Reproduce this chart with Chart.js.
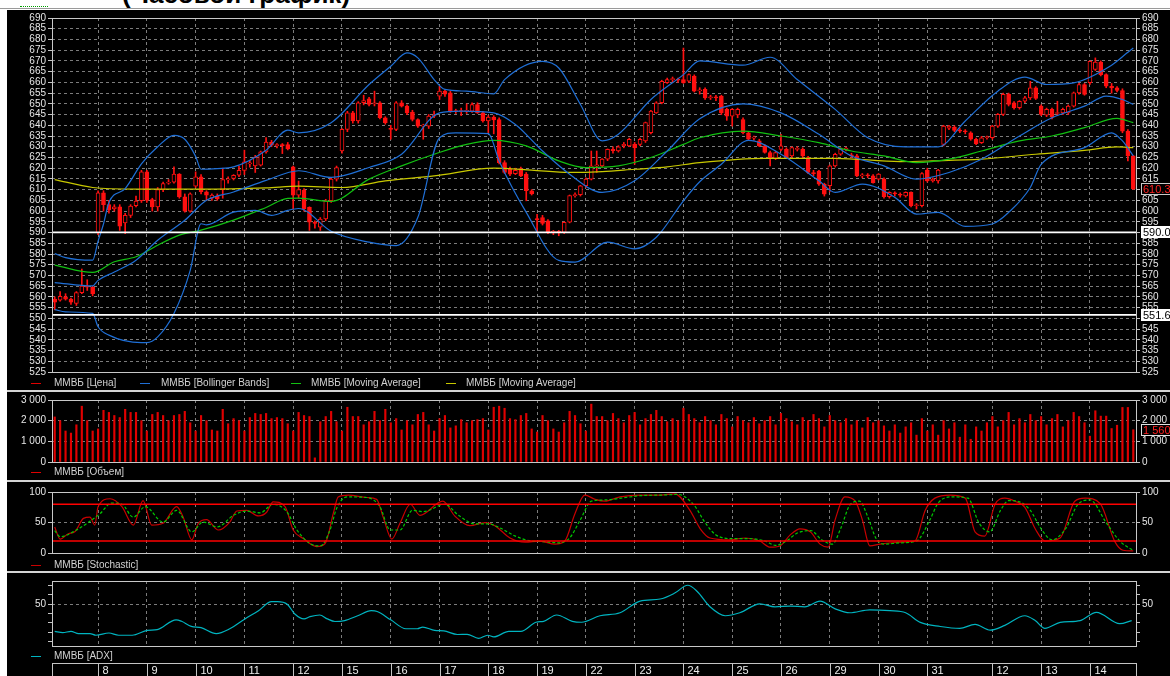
<!DOCTYPE html>
<html>
<head>
<meta charset="utf-8">
<script src="https://cdn.jsdelivr.net/npm/chart.js@4.4.1/dist/chart.umd.min.js"></script>
<style>
  html, body { margin: 0; padding: 0; width: 1170px; height: 676px; overflow: hidden; background: #fff; font-family: "Liberation Sans", Arial, sans-serif; }
  #top { position: absolute; left: 0; top: 0; width: 1170px; height: 8px; overflow: hidden; background: #fff; border-bottom: 1px solid #9a9a9a; }
  #title { position: absolute; left: 122px; top: -21px; font: bold 26px "Liberation Sans", Arial, sans-serif; color: #000; white-space: nowrap; }
  #tab { position: absolute; left: 20px; top: 6px; width: 28px; border-top: 1px dotted #00a000; }
  #board { position: absolute; left: 7px; top: 10px; width: 1163px; height: 666px; background: #000; }
  canvas { position: absolute; left: 0; }
  .sep { position: absolute; left: 7px; width: 1163px; height: 2px; background: #d4d4d4; }
  .leg { position: absolute; font-size: 10px; line-height: 12px; color: #d2d2d2; white-space: nowrap; }
  .mark { position: absolute; width: 10px; height: 1px; }
</style>
</head>
<body>
<div id="top"><div id="title">(Часовой график)</div><div id="tab"></div></div>
<div id="board"></div>
<div class="sep" style="top:390px"></div>
<div class="sep" style="top:480px"></div>
<div class="sep" style="top:571px"></div>
<canvas id="cMain" width="1170" height="372" style="top:10px"></canvas>
<canvas id="cVol" width="1170" height="80" style="top:392px"></canvas>
<canvas id="cSto" width="1170" height="80" style="top:483px"></canvas>
<canvas id="cAdx" width="1170" height="103" style="top:573px"></canvas>
<script>
// trading days: index of the first hourly candle of each day and its label
const dayStart = [8, 17, 26, 35, 44, 53, 62, 71, 80, 89, 98, 107, 116, 125, 134, 143, 152, 161, 173, 182, 191];
const dayLabels = ['8', '9', '10', '11', '12', '15', '16', '17', '18', '19', '22', '23', '24', '25', '26', '29', '30', '31', '12', '13', '14'];

// hourly candles
const opens = [
  559, 558.5, 560, 559, 557, 562, 565, 564.5, 590, 608.5,
  603, 601, 602, 594.5, 598, 602.5, 604.8, 618.3, 605.4, 602,
  610, 613, 613.5, 617.2, 606.6, 600, 611.6, 616, 609, 606,
  607, 610, 614.5, 615.2, 616.7, 619, 622, 621, 621.4, 627.6,
  632.2, 630.5, 630.7, 631, 620.6, 607.4, 609.8, 601.7, 594.8, 592.5,
  596.3, 604.8, 614.9, 628, 638.1, 645.8, 642, 650.5, 652.3, 650,
  650.5, 643.5, 638.5, 638.1, 650.5, 648.9, 646.1, 642.7, 639.6, 639.6,
  644.3, 653.6, 655.9, 655.1, 646.6, 646.4, 646.5, 646.6, 649.7, 645.8,
  642, 643.8, 642.7, 622.6, 619.5, 617.5, 619.8, 617.2, 609.5, 596.3,
  597, 595.5, 590.1, 590.4, 590.1, 594.8, 607.2, 607.6, 611.8, 614.9,
  621.1, 621.1, 624.2, 628.8, 628, 630.5, 630.4, 631.1, 631.1, 632.7,
  636.5, 645.8, 650.5, 659.8, 661.3, 661.5, 661.3, 660.5, 662.9, 656,
  656.7, 652.8, 653.3, 653.6, 647.4, 644.3, 644.8, 642.7, 636.5, 634,
  632.7, 630.4, 627.3, 624.6, 628.8, 628.8, 625.7, 628.8, 628.8, 624.9,
  618, 618.7, 612.6, 611.8, 621.1, 626.5, 628.8, 626, 625.7, 616.4,
  616.8, 616.4, 614.9, 614.9, 606.7, 608.2, 607.6, 607.1, 608.7, 602.5,
  602.5, 619.1, 614.1, 614.1, 631.1, 638.6, 639.2, 637.6, 637.3, 636.5,
  633.5, 631.9, 634.2, 634.2, 639.6, 645.1, 654.4, 650.5, 648.2, 651.2,
  652.8, 657.4, 648.9, 644.7, 647.4, 645.5, 645.8, 645.8, 648.9, 655.1,
  659, 659.8, 666, 669.5, 663.6, 658.2, 657.4, 656.2, 637.3, 625.7
];
const highs = [
  560, 562.5, 561.5, 559.5, 562.5, 573, 568, 565, 609.5, 609.5,
  605, 603, 603, 599, 603, 607, 619, 619, 606, 611,
  613.5, 614.7, 620.6, 617.5, 608, 608.5, 618.3, 617, 609.5, 608,
  608, 620, 616, 617, 621, 628.4, 623.5, 626, 628, 634.3,
  633, 631.5, 631.5, 632, 621, 614, 610.5, 602, 595.5, 597,
  605.5, 615.5, 621, 638.5, 646.5, 646.5, 651, 654, 653, 655.9,
  651, 644, 640, 651, 651.5, 649.5, 647, 643, 640.5, 645,
  646.6, 658.2, 656.5, 656, 647.5, 648, 650, 650.5, 650.5, 646.5,
  644.5, 644.5, 643.5, 623.5, 620.5, 620, 620.5, 618, 610, 598.5,
  598, 596, 591, 591, 595, 607.5, 608.5, 612, 615.5, 628,
  628, 624.5, 629, 630, 630.5, 632, 634, 632, 634, 641.5,
  647, 651, 661, 662, 662.5, 662, 676, 664, 663.5, 657.5,
  657.5, 654, 654, 654, 648, 647.8, 648, 643.5, 637, 635,
  633.5, 631, 628, 627.8, 635.8, 629.5, 630, 630, 629.5, 625.5,
  619, 619, 613, 621.5, 627, 629.5, 629.8, 627, 626.5, 617.5,
  617.5, 617, 617.5, 615.5, 609, 609, 608.5, 609, 609, 603.5,
  618, 620, 615.5, 619.5, 640, 640, 639.8, 638.5, 638, 637,
  634, 634.8, 635, 640, 645.5, 655, 655, 651, 651.5, 653.5,
  660.5, 658, 649.5, 648, 648, 651.2, 648, 649.5, 655.5, 659.5,
  659.5, 670, 671.4, 670, 664, 659.5, 658, 657, 638, 626
];
const lows = [
  554, 558, 558.5, 556.5, 556, 561.5, 563, 560.5, 589, 600,
  599, 600, 591, 589.5, 597, 602, 604, 604, 600, 600,
  609, 612.5, 613, 606, 599.5, 599.5, 611, 608, 605, 605,
  605, 606, 613, 614.5, 616, 617, 620.5, 618, 621, 627,
  630, 629.5, 626.8, 628.5, 601, 606, 600, 591, 592, 591,
  595.5, 604, 614, 627, 637, 641, 641, 649.5, 649, 649,
  643, 640.5, 633.5, 637.5, 648.5, 645, 642, 639, 633.5, 638.5,
  643.5, 652, 653.5, 646, 645.5, 644.5, 645.5, 646, 645.5, 641.5,
  636.6, 636, 622, 617.5, 616.5, 617, 616, 604.8, 607.5, 590,
  593.5, 589.5, 589, 588.5, 589.5, 594.5, 606.5, 607, 611, 614.5,
  618, 620.5, 623.5, 627, 627.5, 629.5, 630, 621.8, 630.5, 632,
  636, 645.5, 650, 659.5, 660, 660, 659.5, 660, 655.5, 654.5,
  652, 652, 651.5, 645, 642.3, 639.6, 643.5, 636, 633, 633,
  630, 627, 621.1, 624, 628, 624.5, 625, 628, 625, 617.5,
  616.5, 612, 607, 609, 620.5, 626, 628, 625, 616, 615.5,
  615.5, 613, 614.5, 606, 606, 607, 606.5, 606.5, 602, 601,
  602, 613.5, 613.5, 613, 630.4, 638, 637, 636.5, 636, 633,
  631, 631.5, 633.5, 633.5, 639, 644.5, 649, 647.5, 647.5, 650.5,
  652, 652, 644.5, 644, 643, 644.5, 645, 645, 648.5, 654.5,
  654, 659, 665.5, 663, 657.5, 655, 655.5, 636.5, 623.4, 610
];
const closes = [
  557.5, 560.3, 559, 557.5, 562, 565, 564.5, 561.5, 608.5, 603,
  600.5, 602, 593, 598, 602.3, 604.7, 618.3, 605, 602, 610,
  612.8, 613.5, 617.2, 606.6, 600, 608, 616, 609, 607.4, 607.5,
  605.7, 614.7, 615, 616.7, 619, 623, 622.5, 625, 627.6, 632.2,
  630.7, 631, 630.5, 629, 607.4, 610, 601, 594.8, 594.3, 596.3,
  604.8, 614.9, 620.3, 638.1, 645.8, 642, 650.5, 651.5, 649.7, 650.5,
  643.5, 641.2, 638.1, 650.5, 648.9, 645.8, 642.7, 639.6, 639.9, 644.3,
  644.6, 655.9, 654.5, 646.6, 646.4, 646.8, 647, 649.7, 645.8, 642,
  643.8, 642.5, 622.6, 618, 617.2, 619, 616.4, 609.5, 608, 596,
  594.3, 590.1, 590.4, 590.1, 594.8, 607.2, 607.6, 611.8, 614.9, 621.1,
  621.5, 624.2, 628.8, 628.2, 629.9, 631.1, 633.5, 629.6, 633.5, 641.2,
  646.6, 650.5, 660.5, 661.3, 661.5, 661, 659.8, 663.6, 655.9, 656.5,
  652.8, 653.3, 652.8, 645.8, 644.3, 647.4, 647.4, 636.5, 633.5, 634.4,
  630.4, 627.3, 624.6, 627.3, 630.4, 624.9, 629.6, 629.2, 625.7, 618,
  617.5, 612.6, 607.9, 621.1, 626.5, 628.8, 629.3, 625.7, 616.4, 616.8,
  616.4, 613.3, 617.2, 606.7, 608.7, 608, 607.4, 608.7, 602.5, 602.8,
  617.5, 614.1, 614.9, 619.1, 639.6, 639.6, 637.6, 637.3, 637, 633.5,
  631.4, 634.2, 634.5, 639.6, 645.1, 654.4, 649.7, 648.2, 651.2, 652.8,
  657.4, 652.5, 645.1, 647.4, 643.8, 645.8, 647.4, 648.9, 655.1, 659,
  654.4, 669.8, 669.5, 663.6, 658.2, 657.4, 656.2, 637.3, 625.7, 610.36
];
const volumes = [
  2180, 2000, 1500, 1400, 1800, 2700, 2000, 1500, 1600, 2500,
  2400, 2250, 2150, 2550, 2400, 2400, 2000, 1500, 2300, 2400,
  2250, 2000, 2250, 2300, 2450, 1900, 1500, 2250, 2000, 1550,
  1500, 2550, 1850, 2100, 2000, 1500, 2150, 2350, 2300, 2350,
  2100, 2150, 2100, 1850, 1500, 2400, 2250, 2200, 200, 1950,
  2200, 2450, 1950, 1500, 2650, 2200, 2200, 1800, 1950, 2450,
  2000, 2550, 1900, 2100, 1550, 2000, 1800, 2300, 2400, 1800,
  1500, 2100, 2250, 1650, 1750, 2050, 1900, 2000, 2050, 2100,
  1550, 2650, 2700, 2600, 2100, 2050, 2250, 2350, 1600, 1450,
  2250, 2000, 1600, 1450, 1900, 2450, 2250, 1850, 1500, 2800,
  2200, 2200, 2000, 2350, 2100, 1900, 2250, 2400, 1800, 2100,
  2300, 2500, 2200, 1950, 2100, 2000, 2600, 2300, 2100, 1900,
  2200, 2000, 1800, 2300, 2100, 1700, 2200, 2000, 1900, 2150,
  1850, 2000, 2200, 1800, 2350, 2100, 1950, 1800, 2150, 2000,
  2300, 2100, 1700, 2250, 2000, 1900, 2100, 1800, 2000, 1650,
  2150, 1900, 2000, 1750, 1500, 1800, 1400, 1700, 1900, 1300,
  2100, 1500, 1800, 1300, 2000, 1600, 1900, 1200, 1800, 1100,
  1700, 1500, 1900, 2200, 1700, 2000, 2400, 1800, 2100, 1900,
  2300, 2000, 2200, 1800, 2100, 2300, 1700, 2000, 2400, 2200,
  1900, 1250, 2480, 2220, 2220, 1620, 1780, 2640, 2640, 1560
];

// indicator lines: [candle index, value]
const bbUpper = [[0, 580.2], [2, 578.3], [7, 577.1], [8, 586], [9, 594], [10, 604], [13, 610.5], [16, 622], [19, 630], [22, 635.3], [24, 633.5], [26, 625.5], [27, 619.5], [30, 619.8], [33, 620.6], [39, 628.4], [43, 637.7], [45, 636.5], [51, 641.2], [58, 659], [62, 667.5], [65, 673.7], [67, 671.4], [70, 661.3], [72, 656.7], [76, 655.9], [81, 654.6], [83, 661.3], [90, 669.8], [93, 666.7], [97, 649.7], [101, 632.7], [104, 635.8], [110, 652], [116, 663.6], [119, 670], [127, 668], [132, 671.7], [137, 661.3], [144, 647.4], [150, 634.2], [157, 629.9], [163, 629.9], [168, 642], [174, 655.9], [179, 662.4], [183, 659], [188, 659.8], [195, 668], [198, 674], [199, 676]];
const bbMiddle = [[0, 566.7], [7, 565.1], [8, 567.7], [11, 571.6], [15, 577.1], [19, 586.4], [24, 595.7], [28, 605], [33, 608.9], [39, 614.3], [45, 618.8], [51, 615.7], [58, 620.3], [64, 626.5], [71, 645.8], [75, 646.6], [81, 645.8], [85, 640.4], [90, 628], [95, 617.2], [101, 608.7], [107, 614.1], [113, 628], [119, 643], [127, 650], [134, 645.8], [141, 635.8], [147, 625.7], [153, 621.1], [159, 614.9], [165, 618], [171, 624.2], [178, 635], [184, 643.5], [190, 648.9], [194, 653.6], [197, 652], [199, 649.7]];
const bbLower = [[0, 554.1], [2, 553], [7, 552.3], [8, 546.1], [10, 542.2], [16, 538.7], [17, 538.7], [19, 541.4], [22, 552.3], [25, 572.4], [27, 594.1], [28, 593.6], [33, 599.5], [37, 600.3], [40, 598], [43, 600.3], [45, 601.2], [51, 590.6], [58, 585.5], [63, 583.9], [67, 597.1], [71, 634.2], [74, 636.5], [80, 636.1], [82, 623.4], [87, 599.4], [93, 577], [96, 576.2], [102, 585.5], [107, 582.4], [111, 587.8], [116, 604.8], [119, 613.7], [123, 621.8], [128, 633], [134, 626.5], [141, 614.1], [144, 608.7], [149, 612.6], [155, 606.4], [159, 598.6], [163, 599.4], [168, 592.9], [173, 594], [176, 599.4], [180, 611], [182, 621.8], [190, 629.6], [195, 636.5], [197, 632.7], [199, 625.7]];
const maFast = [[0, 574.8], [7, 571.4], [11, 576.4], [15, 578.7], [19, 584.1], [23, 588.8], [27, 591.1], [33, 595.8], [39, 601.7], [43, 605.9], [45, 606], [51, 604.5], [58, 614.9], [64, 621.1], [70, 626.5], [76, 631.1], [81, 633], [87, 630.4], [93, 623.4], [98, 620.3], [104, 621.1], [110, 625], [116, 631.1], [119, 634.2], [127, 637.3], [134, 635], [141, 631.9], [147, 628], [153, 625.7], [159, 622.6], [165, 624.2], [171, 628], [178, 632.7], [184, 635], [190, 638.9], [196, 643.2], [199, 641.2]];
const maSlow = [[0, 614.7], [7, 611], [15, 610.2], [27, 610.2], [39, 610.8], [45, 611.6], [53, 611], [61, 614.1], [70, 616.4], [81, 620], [88, 619.1], [95, 618], [101, 618.4], [107, 619.5], [113, 620.6], [119, 622.6], [131, 624.6], [144, 624.6], [156, 623.1], [162, 623.4], [171, 624.2], [181, 626.5], [190, 628.3], [196, 629.9], [199, 629.6]];
const levels = [590.07, 551.61];

const stochK = [[0, 43], [1, 23], [2.5, 32], [3.7, 35], [5.3, 57], [6.5, 59], [7.4, 46], [8, 76], [10.2, 89], [12.4, 76], [14.5, 46], [16.3, 86], [17.9, 46], [20, 49], [22.5, 76], [23.7, 59], [25.3, 22], [26.5, 49], [28, 55], [30.2, 38], [32.3, 51], [33.6, 69], [35.4, 70], [37.6, 61], [39.1, 67], [40.3, 84], [42.5, 76], [44, 38], [45.9, 24], [48.3, 11], [49.9, 16], [51.4, 65], [52.3, 92], [54.2, 95], [57.6, 91], [59.4, 88], [60.6, 59], [62.2, 23], [63.7, 49], [65.6, 80], [67.4, 62], [71.6, 85], [73.9, 60], [76.6, 45], [79.4, 50], [81.2, 45], [84, 25], [86.8, 18], [89.5, 20], [92.3, 15], [94.1, 20], [96, 65], [97.8, 95], [99.7, 88], [101.5, 85], [104.3, 92], [108, 95], [111.7, 95], [114.4, 97], [117.2, 70], [119.1, 40], [120.9, 25], [124.6, 22], [127.4, 25], [130.1, 20], [132, 10], [133.8, 12], [135.7, 30], [137.5, 40], [139.4, 35], [141.2, 15], [142.7, 10], [144, 55], [145.8, 92], [147.7, 85], [149, 55], [150.4, 12], [152.3, 15], [156, 18], [158.7, 20], [160.6, 70], [162.4, 90], [165.2, 95], [168, 90], [169.8, 35], [171.6, 28], [173.5, 80], [175.3, 90], [177.2, 85], [179, 75], [180.9, 40], [182.7, 20], [185.5, 25], [188.2, 85], [190.1, 90], [192.9, 81], [195.6, 19], [197.1, 5], [199, 4]];
const stochD = [[0, 37], [1, 27], [4, 38], [6.3, 51], [8.4, 65], [10.5, 82], [12.4, 80], [14.5, 59], [16.7, 76], [20, 51], [22.5, 70], [25.3, 35], [27.4, 51], [30, 43], [33, 62], [35.4, 69], [37.9, 66], [40.3, 80], [42.8, 68], [44.7, 38], [47.1, 16], [49, 12], [50.8, 38], [52, 73], [53.9, 92], [57.6, 91], [60, 76], [61.9, 38], [63.7, 38], [66, 70], [68, 68], [72, 80], [74.5, 62], [77.5, 48], [80, 48], [82, 42], [85, 28], [88, 20], [90.5, 19], [93, 17], [95, 25], [97, 55], [99, 85], [101.5, 87], [104.5, 90], [108, 94], [112, 95], [115, 96], [118, 78], [120, 50], [122, 30], [125, 24], [128, 24], [131, 20], [133, 13], [135, 20], [137, 33], [139.5, 37], [141.5, 22], [143.5, 15], [145, 40], [146.8, 80], [148.5, 85], [150, 60], [151.5, 25], [153, 15], [156, 17], [159, 20], [161.5, 55], [163, 82], [165.5, 92], [168.5, 90], [170.5, 50], [172.5, 35], [174.5, 70], [176, 86], [178, 84], [180, 70], [182, 40], [184, 22], [186.5, 40], [188.8, 80], [191, 87], [194, 50], [196.5, 20], [198, 10], [199, 5]];
const stochLevels = [80, 20];

const adx = [[0, 35.4], [1.5, 34.7], [3, 35.4], [4.4, 34.2], [6.5, 34.2], [7.6, 33.3], [10, 34.5], [11.8, 33.3], [14.3, 33.3], [17.1, 35.9], [18.9, 36.3], [22.4, 41.6], [23.4, 40.8], [25.2, 38.1], [27, 37.4], [29.8, 34.2], [32.3, 36.8], [35.1, 42.1], [37.6, 46.5], [40, 51.4], [41.1, 51.4], [42.9, 50], [44.3, 44.7], [46, 42.1], [47.1, 43.3], [48.9, 44.2], [50.3, 42.1], [51.7, 40.7], [53.5, 41.2], [55.9, 43.8], [58.4, 46.5], [59.5, 46.1], [62, 41.6], [64.8, 36.8], [66.9, 36.8], [67.9, 37.7], [70.1, 35.9], [71.8, 35.6], [74.3, 33.7], [76.1, 33.8], [78.2, 31.6], [79.9, 33.3], [81, 32.4], [83.8, 35.4], [86, 35.4], [88.8, 40.3], [90.2, 40.8], [92.6, 44.2], [95.5, 40.8], [97.2, 40.3], [100.6, 43.8], [104.3, 45.4], [108, 51.7], [111.7, 52.8], [114.4, 56], [116.8, 60.2], [118.5, 57], [120.9, 48.6], [123.7, 43.8], [126.4, 45.4], [130.1, 50.2], [132.9, 48.6], [135.7, 49], [138.4, 48.6], [141.2, 51.7], [144, 47.5], [146.7, 45.4], [150.4, 47], [154.1, 46.5], [157, 45.4], [159.7, 40.2], [163.4, 38], [167, 37], [169.8, 39.1], [172.6, 36], [175.3, 38.6], [179, 43.8], [180.9, 41.2], [182.7, 37], [185.5, 40.2], [189.2, 41.2], [192.2, 45.6], [196.5, 39.5], [198.7, 41.2]];
const adxTicks = [30, 35, 40, 45, 50, 55, 60];

const FONT = '"Liberation Sans", Arial, sans-serif';
Chart.defaults.font.family = FONT;
Chart.defaults.font.size = 10;
Chart.defaults.color = '#e6e6e6';

const pts = arr => arr.map(([x, y]) => ({ x, y }));
const spaced = v => String(v).replace(/\B(?=(\d{3})+(?!\d))/g, ' ');

function xAxis() {
  return {
    type: 'linear', min: -0.5, max: 199.5, offset: false,
    afterBuildTicks: a => { a.ticks = dayStart.map(v => ({ value: v })); },
    ticks: { display: false },
    grid: { color: '#7c7c7c', drawTicks: false, offset: false },
    border: { display: false, dash: [3, 3] },
    afterFit: s => { s.height = 0; }
  };
}

function yAxes(min, max, step, label, gridColor, tickList) {
  const base = {
    type: 'linear', min, max,
    ticks: { stepSize: step, autoSkip: false, color: '#e6e6e6', padding: 2, callback: label },
    border: { display: false, dash: [3, 3] },
    grid: { color: gridColor || '#7c7c7c', tickColor: '#c4c4c4', tickLength: 4 }
  };
  if (tickList) base.afterBuildTicks = a => { a.ticks = tickList.map(v => ({ value: v })); };
  return {
    y: { ...base, position: 'left', afterFit: s => { s.width = 52; } },
    yr: { ...base, position: 'right', grid: { ...base.grid, drawOnChartArea: false }, afterFit: s => { s.width = 34; } }
  };
}

const frame = {
  id: 'frame',
  afterDatasetsDraw(chart) {
    const a = chart.chartArea, ctx = chart.ctx;
    ctx.save();
    ctx.strokeStyle = '#c8c8c8';
    ctx.lineWidth = 1;
    ctx.strokeRect(Math.round(a.left) + 0.5, Math.round(a.top) + 0.5, Math.round(a.right - a.left), Math.round(a.bottom - a.top));
    ctx.restore();
  }
};

function tags(list) {
  return {
    id: 'tags',
    afterDraw(chart) {
      const ctx = chart.ctx, ys = chart.scales.y, x0 = chart.chartArea.right + 5;
      list.forEach(t => {
        const y = Math.round(ys.getPixelForValue(t.value));
        ctx.save();
        ctx.fillStyle = t.bg;
        ctx.fillRect(x0, y - 6, 40, 12);
        ctx.strokeStyle = t.border;
        ctx.strokeRect(x0 + 0.5, y - 5.5, 40, 11);
        ctx.fillStyle = t.fg;
        ctx.font = '11px ' + FONT;
        ctx.textBaseline = 'middle';
        ctx.fillText(t.text, x0 + 2, y + 0.5);
        ctx.restore();
      });
    }
  };
}

const dateRow = {
  id: 'dateRow',
  afterDraw(chart) {
    const ctx = chart.ctx, a = chart.chartArea, xs = chart.scales.x;
    const top = a.bottom + 17;
    const edges = [a.left, ...dayStart.map(v => xs.getPixelForValue(v)), a.right];
    const names = [''].concat(dayLabels);
    ctx.save();
    ctx.strokeStyle = '#c4c4c4';
    ctx.fillStyle = '#ececec';
    ctx.font = '11px ' + FONT;
    ctx.textBaseline = 'middle';
    for (let k = 0; k < edges.length - 1; k++) {
      const l = Math.round(edges[k]) + 0.5, r = Math.round(edges[k + 1]) + 0.5;
      ctx.strokeRect(l, top + 0.5, r - l, 20);
      ctx.fillText(names[k], l + 4, top + 8);
    }
    ctx.restore();
  }
};

function panel(id, pad, datasets, scales, plugins) {
  return new Chart(document.getElementById(id), {
    type: 'bar',
    data: { datasets },
    options: {
      responsive: false, animation: false, devicePixelRatio: 1, events: [],
      layout: { padding: pad },
      plugins: { legend: { display: false }, tooltip: { enabled: false } },
      scales: { x: xAxis(), ...scales }
    },
    plugins: [frame].concat(plugins || [])
  });
}

function lineSet(data, color, extra) {
  return Object.assign({ type: 'line', data: pts(data), borderColor: color, borderWidth: 1.2, pointRadius: 0, cubicInterpolationMode: 'monotone', order: 1 }, extra || {});
}
const flat = (v, color, w) => ({ type: 'line', data: [{ x: -0.5, y: v }, { x: 199.5, y: v }], borderColor: color, borderWidth: w, pointRadius: 0, order: 0 });

// price panel
const up = opens.map((o, i) => closes[i] >= o);
panel('cMain', { top: 6.5, bottom: 10, left: 0, right: 0 }, [
  { label: 'wick', data: opens.map((o, i) => ({ x: i, y: [lows[i], highs[i]] })), backgroundColor: '#ff1010', barThickness: 1, grouped: false, order: 3 },
  { label: 'body', data: opens.map((o, i) => ({ x: i, y: [Math.min(o, closes[i]), Math.max(o, closes[i])] })),
    backgroundColor: up.map(u => u ? '#000000' : '#ff1010'), borderColor: '#ff1010', borderWidth: 1, borderSkipped: false,
    barThickness: 4, minBarLength: 1, grouped: false, order: 2 },
  lineSet(bbUpper, '#1f6fd6'), lineSet(bbMiddle, '#1f6fd6'), lineSet(bbLower, '#1f6fd6'),
  lineSet(maFast, '#12c012'), lineSet(maSlow, '#c8c800'),
  flat(levels[0], '#ffffff', 1.6), flat(levels[1], '#ffffff', 1.6)
], yAxes(525, 690, 5), [tags([
  { value: closes[closes.length - 1], text: closes[closes.length - 1].toFixed(2), fg: '#ff2020', bg: '#000000', border: '#c8c8c8' },
  { value: levels[0], text: levels[0].toFixed(2), fg: '#000000', bg: '#ffffff', border: '#ffffff' },
  { value: levels[1], text: levels[1].toFixed(2), fg: '#000000', bg: '#ffffff', border: '#ffffff' }
])]);

// volume panel
panel('cVol', { top: 7, bottom: 10, left: 0, right: 0 }, [
  { label: 'vol', data: volumes.map((v, i) => ({ x: i, y: v })), backgroundColor: '#e00000', barThickness: 1.5, grouped: false, order: 2 }
], yAxes(0, 3000, 1000, v => spaced(v)), [tags([
  { value: volumes[volumes.length - 1], text: spaced(volumes[volumes.length - 1]), fg: '#ff2020', bg: '#000000', border: '#e0e0e0' }
])]);

// stochastic panel
panel('cSto', { top: 9, bottom: 9.7, left: 0, right: 0 }, [
  flat(stochLevels[0], '#ff0000', 1.6), flat(stochLevels[1], '#ff0000', 1.6),
  lineSet(stochD, '#00c800', { borderDash: [3, 2] }),
  lineSet(stochK, '#c80000')
], yAxes(0, 100, 50));

// ADX panel + date row
panel('cAdx', { top: 6.5, bottom: 30, left: 0, right: 0 }, [
  lineSet(adx, '#00b4c0')
], yAxes(27.5, 62.5, 5, v => (v === 50 ? '50' : ''), c => (c.tick.value === 50 ? '#7c7c7c' : 'rgba(0,0,0,0)'), adxTicks), [dateRow]);

// legends
function legend(top, items) {
  items.forEach(([lx, tx, color, text]) => {
    const m = document.createElement('div');
    m.className = 'mark';
    m.style.cssText = `left:${lx}px;top:${top + 6}px;background:${color}`;
    document.body.appendChild(m);
    const t = document.createElement('div');
    t.className = 'leg';
    t.style.cssText = `left:${tx}px;top:${top}px`;
    t.textContent = text;
    document.body.appendChild(t);
  });
}
legend(377, [[31, 54, '#e00000', 'ММВБ [Цена]'], [140, 161, '#1f6fd6', 'ММВБ [Bollinger Bands]'], [291, 311, '#12c012', 'ММВБ [Moving Average]'], [446, 466, '#c8c800', 'ММВБ [Moving Average]']]);
legend(466, [[31, 54, '#e00000', 'ММВБ [Объем]']]);
legend(559, [[31, 54, '#c80000', 'ММВБ [Stochastic]']]);
legend(650, [[31, 54, '#00b4c0', 'ММВБ [ADX]']]);
</script>
</body>
</html>
